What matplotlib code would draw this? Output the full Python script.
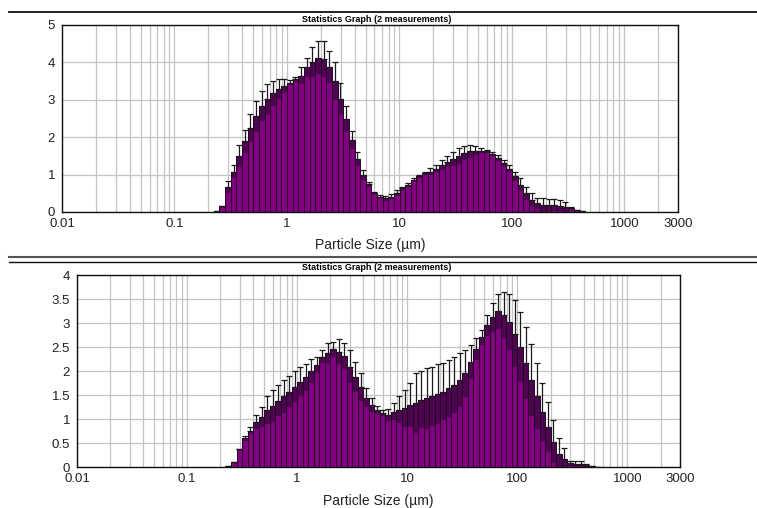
import numpy as np
import matplotlib
matplotlib.use("Agg")
import matplotlib.pyplot as plt
from matplotlib.lines import Line2D
from matplotlib.ticker import LogLocator, NullFormatter

plt.rcParams['font.family'] = ['Liberation Sans', 'DejaVu Sans']

# size classes (lower edges, µm)
class_edges = [0.224, 0.251, 0.282, 0.316, 0.355, 0.399, 0.448, 0.502, 0.564, 0.632,
               0.710, 0.796, 0.893, 1.002, 1.125, 1.262, 1.416, 1.589, 1.783, 2.000,
               2.244, 2.518, 2.825, 3.170, 3.557, 3.991, 4.477, 5.024, 5.637, 6.325,
               7.096, 7.962, 8.934, 10.024, 11.247, 12.619, 14.159, 15.887, 17.825, 20.000,
               22.440, 25.179, 28.251, 31.698, 35.566, 39.905, 44.774, 50.238, 56.368, 63.246,
               70.963, 79.621, 89.337, 100.237, 112.468, 126.191, 141.589, 158.866, 178.250, 200.000,
               224.404, 251.785, 282.508, 316.979, 355.656, 399.052, 447.744, 502.377, 563.677]

# top graph: mean volume % and standard deviation
top_mean = [0.02, 0.16, 0.66, 1.08, 1.49, 1.89, 2.25, 2.56, 2.83, 3.01,
            3.17, 3.28, 3.37, 3.46, 3.55, 3.64, 3.87, 4.00, 4.13, 4.09,
            3.87, 3.50, 3.02, 2.49, 1.93, 1.41, 0.99, 0.74, 0.50, 0.41,
            0.37, 0.41, 0.50, 0.64, 0.73, 0.86, 0.95, 1.04, 1.08, 1.16,
            1.26, 1.35, 1.42, 1.49, 1.58, 1.62, 1.64, 1.64, 1.62, 1.55,
            1.44, 1.31, 1.16, 0.95, 0.73, 0.50, 0.32, 0.23, 0.19, 0.19,
            0.19, 0.17, 0.14, 0.10, 0.05, 0.02]
top_sd = [0.00, 0.00, 0.16, 0.18, 0.29, 0.31, 0.38, 0.41, 0.41, 0.41,
          0.33, 0.27, 0.18, 0.06, 0.07, 0.23, 0.26, 0.40, 0.45, 0.49,
          0.43, 0.50, 0.42, 0.35, 0.24, 0.19, 0.13, 0.06, 0.03, 0.04,
          0.07, 0.06, 0.08, 0.04, 0.05, 0.04, 0.05, 0.04, 0.09, 0.10,
          0.14, 0.14, 0.18, 0.21, 0.18, 0.18, 0.12, 0.07, 0.05, 0.05,
          0.08, 0.09, 0.10, 0.13, 0.17, 0.18, 0.18, 0.14, 0.18, 0.16,
          0.16, 0.15, 0.14, 0.04, 0.01, 0.00]

# bottom graph
bot_mean = [0.02, 0.10, 0.37, 0.60, 0.76, 0.94, 1.05, 1.19, 1.27, 1.38,
            1.47, 1.57, 1.67, 1.78, 1.87, 1.99, 2.13, 2.30, 2.37, 2.45,
            2.40, 2.31, 2.09, 1.88, 1.66, 1.44, 1.29, 1.19, 1.13, 1.08,
            1.15, 1.19, 1.22, 1.29, 1.33, 1.40, 1.43, 1.47, 1.52, 1.57,
            1.64, 1.71, 1.81, 1.95, 2.19, 2.45, 2.70, 2.95, 3.12, 3.24,
            3.17, 3.02, 2.78, 2.50, 2.16, 1.81, 1.48, 1.15, 0.84, 0.53,
            0.28, 0.16, 0.08, 0.06, 0.06, 0.04, 0.02, 0.01]
bot_sd = [0.00, 0.00, 0.00, 0.05, 0.08, 0.14, 0.21, 0.29, 0.33, 0.32,
          0.34, 0.33, 0.32, 0.31, 0.28, 0.25, 0.17, 0.14, 0.22, 0.16,
          0.26, 0.27, 0.35, 0.31, 0.29, 0.20, 0.14, 0.08, 0.06, 0.12,
          0.18, 0.28, 0.38, 0.45, 0.62, 0.59, 0.63, 0.62, 0.63, 0.60,
          0.59, 0.59, 0.56, 0.49, 0.35, 0.23, 0.15, 0.22, 0.30, 0.36,
          0.48, 0.58, 0.69, 0.72, 0.75, 0.75, 0.69, 0.61, 0.52, 0.45,
          0.32, 0.23, 0.05, 0.07, 0.07, 0.03, 0.00, 0.00]

xtick_vals = [0.01, 0.1, 1, 10, 100, 1000, 3000]
xtick_labels = ['0.01', '0.1', '1', '10', '100', '1000', '3000']

PURPLE = '#800080'
DARK = '#4c0650'
EDGE = '#2a0028'
GRID = '#c4c4c4'


def draw_panel(ax, mean, sd, yticks, ylabels, labelpad):
    mean = np.array(mean)
    sd = np.array(sd)
    n = len(mean)
    left = np.array(class_edges[:n])
    right = np.array(class_edges[1:n + 1])
    width = right - left
    centre = np.sqrt(left * right)

    ax.set_xscale('log')
    ax.set_xlim(0.01, 3000)
    ax.set_ylim(0, yticks[-1])

    ax.bar(left, mean, width=width, align='edge', color=PURPLE, linewidth=0, zorder=2)
    ax.bar(left, sd, width=width, bottom=mean - sd, align='edge', color=DARK,
           linewidth=0, zorder=2)
    ax.bar(left, mean, width=width, align='edge', fill=False, edgecolor=EDGE,
           linewidth=0.7, zorder=3)
    ax.errorbar(centre, mean, yerr=[np.zeros(n), sd], fmt='none', ecolor='#1a1a1a',
                elinewidth=0.9, capsize=2.2, capthick=0.9, zorder=4)

    ax.set_xticks(xtick_vals)
    ax.set_xticklabels(xtick_labels)
    ax.xaxis.set_minor_locator(LogLocator(base=10, subs=np.arange(2, 10), numticks=20))
    ax.xaxis.set_minor_formatter(NullFormatter())
    ax.set_yticks(yticks)
    ax.set_yticklabels(ylabels)
    ax.tick_params(which='both', length=0, labelsize=9.5, colors='#222222')
    ax.tick_params(axis='x', pad=4)
    ax.tick_params(axis='y', pad=5)

    ax.grid(True, which='major', axis='both', color=GRID, linewidth=0.9, zorder=0)
    ax.grid(True, which='minor', axis='x', color=GRID, linewidth=0.9, zorder=0)
    ax.set_axisbelow(True)
    for s in ax.spines.values():
        s.set_color('#111111')
        s.set_linewidth(1.0)
    ax.set_xlabel('Particle Size (µm)', fontsize=10, color='#222222', labelpad=labelpad)


W, H = 757, 508
fig = plt.figure(figsize=(W / 100, H / 100), dpi=100)

ax1 = fig.add_axes([62 / W, 1 - 212 / H, 616 / W, 187 / H])
draw_panel(ax1, top_mean, top_sd, [0, 1, 2, 3, 4, 5], ['0', '1', '2', '3', '4', '5'], 6)

ax2 = fig.add_axes([77 / W, 1 - 467 / H, 603 / W, 192 / H])
draw_panel(ax2, bot_mean, bot_sd, [0, 0.5, 1, 1.5, 2, 2.5, 3, 3.5, 4],
           ['0', '0.5', '1', '1.5', '2', '2.5', '3', '3.5', '4'], 7)

# small bold headings
for ypix in (19, 267):
    fig.text(377 / W, 1 - ypix / H, 'Statistics Graph (2 measurements)',
             ha='center', va='center', fontsize=6.5, fontweight='bold',
             family=['Liberation Sans Narrow', 'Liberation Sans', 'DejaVu Sans'])

# separator rules
fig.add_artist(Line2D([9 / W, 1], [1 - 12 / H, 1 - 12 / H], color='#111111', linewidth=1.3))
fig.add_artist(Line2D([9 / W, 1], [1 - 257 / H, 1 - 257 / H], color='#555555', linewidth=1.5))
fig.add_artist(Line2D([9 / W, 1], [1 - 262 / H, 1 - 262 / H], color='#111111', linewidth=1.0))

fig.savefig('out.png', dpi=100)
